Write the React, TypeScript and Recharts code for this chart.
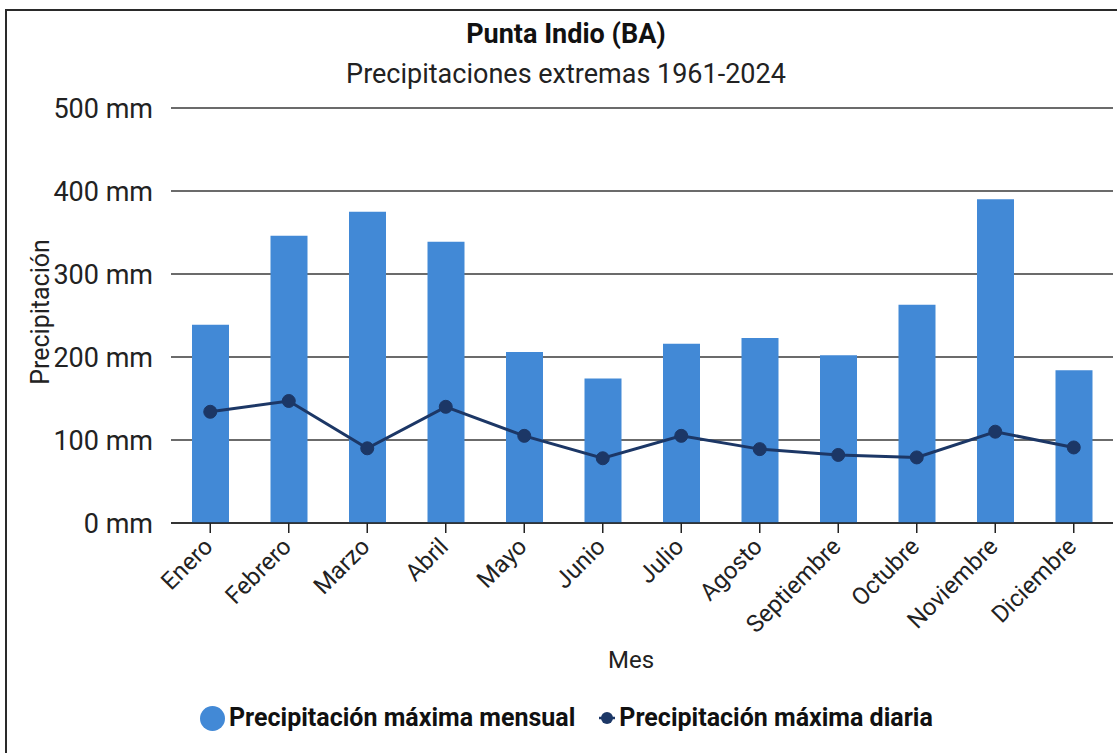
import { Bar, CartesianGrid, ComposedChart, Line, XAxis, YAxis } from "recharts";

const meses = [
  "Enero", "Febrero", "Marzo", "Abril", "Mayo", "Junio",
  "Julio", "Agosto", "Septiembre", "Octubre", "Noviembre", "Diciembre",
];
const maxMensual = [239, 346, 375, 339, 206, 174, 216, 223, 202, 263, 390, 184];
const maxDiaria = [134, 147, 90, 140, 105, 78, 105, 89, 82, 79, 110, 91];
const yTicks = [0, 100, 200, 300, 400, 500];

const data = meses.map((mes, i) => ({
  mes,
  mensual: maxMensual[i],
  diaria: maxDiaria[i],
}));

const BAR_COLOR = "#4289d6";
const LINE_COLOR = "#1c3766";
const FONT = "Roboto, 'Noto Sans', sans-serif";

const MonthTick = ({ x, y, payload }: any) => (
  <text
    transform={`translate(${x + 4},${y + 13}) rotate(-45)`}
    textAnchor="end"
    fontSize={24}
    fontFamily={FONT}
    fill="#222"
  >
    {payload.value}
  </text>
);

const LegendItem = ({ marker, label }: { marker: React.ReactNode; label: string }) => (
  <div style={{ display: "flex", alignItems: "center", gap: 4 }}>
    {marker}
    <span>{label}</span>
  </div>
);

export default function App() {
  return (
    <div
      style={{
        position: "absolute",
        left: 0,
        top: 0,
        width: 1117,
        height: 753,
        overflow: "hidden",
        background: "#fff",
        fontFamily: FONT,
      }}
    >
      {/* frame */}
      <div
        style={{
          position: "absolute",
          left: 5,
          top: 9,
          width: 1130,
          height: 780,
          border: "2px solid #2a2a2a",
        }}
      />

      <div
        style={{
          position: "absolute",
          left: 0,
          width: 1132,
          top: 18,
          textAlign: "center",
          fontSize: 27,
          fontWeight: 700,
          color: "#111",
        }}
      >
        Punta Indio (BA)
      </div>
      <div
        style={{
          position: "absolute",
          left: 0,
          width: 1132,
          top: 58,
          textAlign: "center",
          fontSize: 27,
          color: "#222",
        }}
      >
        Precipitaciones extremas 1961-2024
      </div>

      <div style={{ position: "absolute", left: 0, top: 0 }}>
        <ComposedChart
          width={1117}
          height={753}
          data={data}
          margin={{ top: 108, right: 4, bottom: 0, left: 0 }}
        >
          <CartesianGrid vertical={false} stroke="#3a3a3a" strokeWidth={1.4} />
          <XAxis
            dataKey="mes"
            height={230}
            interval={0}
            stroke="#222"
            strokeWidth={1.5}
            tickSize={10}
            tick={<MonthTick />}
            label={{
              value: "Mes",
              position: "insideTop",
              offset: 128,
              dx: -11,
              fontSize: 24,
              fontFamily: FONT,
              fill: "#222",
            }}
          />
          <YAxis
            width={171}
            domain={[0, 500]}
            ticks={yTicks}
            axisLine={false}
            tickLine={false}
            tickSize={0}
            tickMargin={18}
            tickFormatter={(v: number) => `${v} mm`}
            tick={{ fontSize: 27, fontFamily: FONT, fill: "#222" }}
            label={{
              content: () => (
                <text
                  x={40}
                  y={312}
                  transform="rotate(-90 40 312)"
                  textAnchor="middle"
                  dominantBaseline="central"
                  fontSize={25}
                  fontFamily={FONT}
                  fill="#222"
                >
                  Precipitación
                </text>
              ),
            }}
          />
          <Bar
            dataKey="mensual"
            name="Precipitación máxima mensual"
            fill={BAR_COLOR}
            barSize={37}
            isAnimationActive={false}
          />
          <Line
            type="linear"
            dataKey="diaria"
            name="Precipitación máxima diaria"
            stroke={LINE_COLOR}
            strokeWidth={3}
            dot={{ r: 6.5, fill: LINE_COLOR, stroke: LINE_COLOR, strokeWidth: 1 }}
            isAnimationActive={false}
          />
        </ComposedChart>
      </div>

      {/* legend */}
      <div
        style={{
          position: "absolute",
          left: 200,
          top: 703,
          display: "flex",
          gap: 24,
          fontSize: 25,
          fontWeight: 700,
          color: "#111",
          lineHeight: "30px",
        }}
      >
        <LegendItem
          label="Precipitación máxima mensual"
          marker={
            <span
              style={{
                width: 25,
                height: 25,
                borderRadius: "50%",
                background: BAR_COLOR,
                display: "inline-block",
              }}
            />
          }
        />
        <LegendItem
          label="Precipitación máxima diaria"
          marker={
            <svg width={16} height={16}>
              <line x1={0} y1={8} x2={16} y2={8} stroke={LINE_COLOR} strokeWidth={2.5} />
              <circle cx={8} cy={8} r={6} fill={LINE_COLOR} />
            </svg>
          }
        />
      </div>
    </div>
  );
}
